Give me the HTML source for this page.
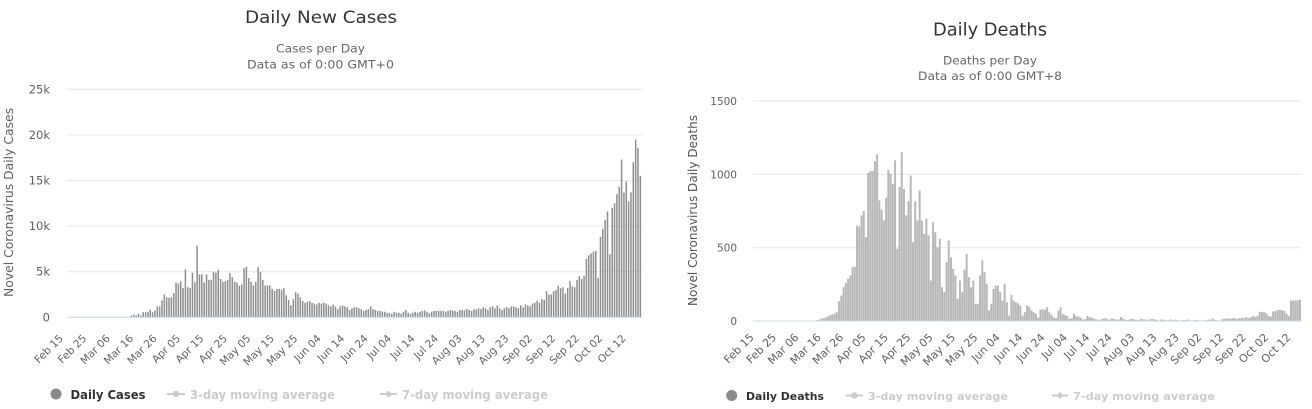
<!DOCTYPE html>
<html><head><meta charset="utf-8"><style>
html,body{margin:0;padding:0;background:#fff;}
svg{display:block;}
text{font-family:"DejaVu Sans","Liberation Sans",sans-serif;}
</style></head><body>
<svg width="1312" height="409" viewBox="0 0 1312 409" xmlns="http://www.w3.org/2000/svg">
<rect x="0" y="0" width="1312" height="409" fill="#fff"/>

<!-- ============ LEFT CHART ============ -->
<text x="321" y="23" font-size="17" fill="#333" text-anchor="middle" textLength="152" lengthAdjust="spacingAndGlyphs">Daily New Cases</text>
<text x="320.5" y="52.3" font-size="11.5" fill="#666" text-anchor="middle" textLength="89" lengthAdjust="spacingAndGlyphs">Cases per Day</text>
<text x="320.5" y="68.3" font-size="11.5" fill="#666" text-anchor="middle" textLength="147" lengthAdjust="spacingAndGlyphs">Data as of 0:00 GMT+0</text>

<g stroke="#e6e6e6" stroke-width="1">
<line x1="67" y1="89.3" x2="642" y2="89.3"/>
<line x1="67" y1="134.9" x2="642" y2="134.9"/>
<line x1="67" y1="180.5" x2="642" y2="180.5"/>
<line x1="67" y1="226.1" x2="642" y2="226.1"/>
<line x1="67" y1="271.7" x2="642" y2="271.7"/>
</g>
<g font-size="11.5" fill="#606060" text-anchor="end">
<text x="50" y="93.3">25k</text>
<text x="50" y="138.9">20k</text>
<text x="50" y="184.5">15k</text>
<text x="50" y="230.1">10k</text>
<text x="50" y="275.7">5k</text>
<text x="50" y="321.3">0</text>
</g>
<text transform="translate(13,202.5) rotate(-90)" font-size="12" fill="#606060" text-anchor="middle" textLength="189" lengthAdjust="spacingAndGlyphs">Novel Coronavirus Daily Cases</text>

<path fill="#8e8e8e" d="M123.7 317.3v-.27h1.5v.27zm2.345 0v-.46h1.5v.46zm2.345 0v-.46h1.5v.46zm2.345 0v-1.8h1.5v1.8zm2.345 0v-2.7h1.5v2.7zm2.345 0v-1.8h1.5v1.8zm2.345 0v-3.6h1.5v3.6zm2.345 0v-1.8h1.5v1.8zm2.345 0v-5h1.5v5zm2.345 0v-5h1.5v5zm2.345 0v-5.5h1.5v5.5zm2.345 0v-7.8h1.5v7.8zm2.345 0v-5h1.5v5zm2.345 0v-6.8h1.5v6.8zm2.345 0v-10.9h1.5v10.9zm2.345 0v-10.9h1.5v10.9zm2.345 0v-16.9h1.5v16.9zm2.345 0v-22.8h1.5v22.8zm2.345 0v-20.1h1.5v20.1zm2.345 0v-19.6h1.5v19.6zm2.345 0v-20.1h1.5v20.1zm2.345 0v-24.2h1.5v24.2zm2.345 0v-34.7h1.5v34.7zm2.345 0v-33.7h1.5v33.7zm2.345 0v-36h1.5v36zm2.345 0v-29.2h1.5v29.2zm2.345 0v-47.9h1.5v47.9zm2.345 0v-30.1h1.5v30.1zm2.345 0v-29.2h1.5v29.2zm2.345 0v-44.7h1.5v44.7zm2.345 0v-35.1h1.5v35.1zm2.345 0v-71.6h1.5v71.6zm2.345 0v-42.9h1.5v42.9zm2.345 0v-42.9h1.5v42.9zm2.345 0v-34.7h1.5v34.7zm2.345 0v-42.9h1.5v42.9zm2.345 0v-37.4h1.5v37.4zm2.345 0v-37.4h1.5v37.4zm2.345 0v-45.6h1.5v45.6zm2.345 0v-44.7h1.5v44.7zm2.345 0v-47.4h1.5v47.4zm2.345 0v-38.3h1.5v38.3zm2.345 0v-35.6h1.5v35.6zm2.345 0v-36h1.5v36zm2.345 0v-37.4h1.5v37.4zm2.345 0v-44.2h1.5v44.2zm2.345 0v-40.1h1.5v40.1zm2.345 0v-35.6h1.5v35.6zm2.345 0v-34.7h1.5v34.7zm2.345 0v-31.5h1.5v31.5zm2.345 0v-32.8h1.5v32.8zm2.345 0v-49.2h1.5v49.2zm2.345 0v-50.6h1.5v50.6zm2.345 0v-39.2h1.5v39.2zm2.345 0v-35.6h1.5v35.6zm2.345 0v-31.9h1.5v31.9zm2.345 0v-35.6h1.5v35.6zm2.345 0v-50.2h1.5v50.2zm2.345 0v-45.6h1.5v45.6zm2.345 0v-37.4h1.5v37.4zm2.345 0v-31.9h1.5v31.9zm2.345 0v-31.9h1.5v31.9zm2.345 0v-31.9h1.5v31.9zm2.345 0v-28.3h1.5v28.3zm2.345 0v-26.4h1.5v26.4zm2.345 0v-28.3h1.5v28.3zm2.345 0v-28.3h1.5v28.3zm2.345 0v-27.4h1.5v27.4zm2.345 0v-29.2h1.5v29.2zm2.345 0v-21.9h1.5v21.9zm2.345 0v-17.3h1.5v17.3zm2.345 0v-11.9h1.5v11.9zm2.345 0v-18.2h1.5v18.2zm2.345 0v-25.1h1.5v25.1zm2.345 0v-23.7h1.5v23.7zm2.345 0v-20.1h1.5v20.1zm2.345 0v-16.4h1.5v16.4zm2.345 0v-14.6h1.5v14.6zm2.345 0v-15.5h1.5v15.5zm2.345 0v-16.4h1.5v16.4zm2.345 0v-14.6h1.5v14.6zm2.345 0v-13.7h1.5v13.7zm2.345 0v-12.8h1.5v12.8zm2.345 0v-14.6h1.5v14.6zm2.345 0v-13.7h1.5v13.7zm2.345 0v-14.6h1.5v14.6zm2.345 0v-13.7h1.5v13.7zm2.345 0v-11.9h1.5v11.9zm2.345 0v-10.9h1.5v10.9zm2.345 0v-12.8h1.5v12.8zm2.345 0v-10.9h1.5v10.9zm2.345 0v-8.2h1.5v8.2zm2.345 0v-10.9h1.5v10.9zm2.345 0v-11.9h1.5v11.9zm2.345 0v-10.9h1.5v10.9zm2.345 0v-10h1.5v10zm2.345 0v-7.3h1.5v7.3zm2.345 0v-9.1h1.5v9.1zm2.345 0v-10h1.5v10zm2.345 0v-10h1.5v10zm2.345 0v-9.1h1.5v9.1zm2.345 0v-8.2h1.5v8.2zm2.345 0v-6.4h1.5v6.4zm2.345 0v-7.3h1.5v7.3zm2.345 0v-8.2h1.5v8.2zm2.345 0v-10.9h1.5v10.9zm2.345 0v-8.2h1.5v8.2zm2.345 0v-7.3h1.5v7.3zm2.345 0v-6.4h1.5v6.4zm2.345 0v-6.4h1.5v6.4zm2.345 0v-5.5h1.5v5.5zm2.345 0v-5.5h1.5v5.5zm2.345 0v-4.6h1.5v4.6zm2.345 0v-4.6h1.5v4.6zm2.345 0v-3.6h1.5v3.6zm2.345 0v-5.5h1.5v5.5zm2.345 0v-4.6h1.5v4.6zm2.345 0v-4.6h1.5v4.6zm2.345 0v-3.6h1.5v3.6zm2.345 0v-5.5h1.5v5.5zm2.345 0v-7.3h1.5v7.3zm2.345 0v-4.6h1.5v4.6zm2.345 0v-3.6h1.5v3.6zm2.345 0v-4.6h1.5v4.6zm2.345 0v-5.5h1.5v5.5zm2.345 0v-4.6h1.5v4.6zm2.345 0v-5.5h1.5v5.5zm2.345 0v-6.4h1.5v6.4zm2.345 0v-6.8h1.5v6.8zm2.345 0v-5.5h1.5v5.5zm2.345 0v-4.1h1.5v4.1zm2.345 0v-5.5h1.5v5.5zm2.345 0v-6.4h1.5v6.4zm2.345 0v-6.4h1.5v6.4zm2.345 0v-6.4h1.5v6.4zm2.345 0v-6.4h1.5v6.4zm2.345 0v-6.4h1.5v6.4zm2.345 0v-5.5h1.5v5.5zm2.345 0v-6.4h1.5v6.4zm2.345 0v-7.3h1.5v7.3zm2.345 0v-6.8h1.5v6.8zm2.345 0v-6.4h1.5v6.4zm2.345 0v-5.5h1.5v5.5zm2.345 0v-7.3h1.5v7.3zm2.345 0v-7.3h1.5v7.3zm2.345 0v-6.8h1.5v6.8zm2.345 0v-8.2h1.5v8.2zm2.345 0v-7.3h1.5v7.3zm2.345 0v-6.4h1.5v6.4zm2.345 0v-8.2h1.5v8.2zm2.345 0v-7.8h1.5v7.8zm2.345 0v-9.1h1.5v9.1zm2.345 0v-8.2h1.5v8.2zm2.345 0v-10h1.5v10zm2.345 0v-9.1h1.5v9.1zm2.345 0v-7.3h1.5v7.3zm2.345 0v-10h1.5v10zm2.345 0v-10.9h1.5v10.9zm2.345 0v-9.1h1.5v9.1zm2.345 0v-11.9h1.5v11.9zm2.345 0v-9.1h1.5v9.1zm2.345 0v-7.3h1.5v7.3zm2.345 0v-9.1h1.5v9.1zm2.345 0v-10h1.5v10zm2.345 0v-9.1h1.5v9.1zm2.345 0v-10.9h1.5v10.9zm2.345 0v-10.9h1.5v10.9zm2.345 0v-10h1.5v10zm2.345 0v-9.1h1.5v9.1zm2.345 0v-11.9h1.5v11.9zm2.345 0v-10h1.5v10zm2.345 0v-12.8h1.5v12.8zm2.345 0v-11.9h1.5v11.9zm2.345 0v-10.9h1.5v10.9zm2.345 0v-13.7h1.5v13.7zm2.345 0v-14.6h1.5v14.6zm2.345 0v-16.4h1.5v16.4zm2.345 0v-14.6h1.5v14.6zm2.345 0v-18.2h1.5v18.2zm2.345 0v-17.3h1.5v17.3zm2.345 0v-26h1.5v26zm2.345 0v-22.8h1.5v22.8zm2.345 0v-22.8h1.5v22.8zm2.345 0v-26h1.5v26zm2.345 0v-27.4h1.5v27.4zm2.345 0v-31.5h1.5v31.5zm2.345 0v-29.2h1.5v29.2zm2.345 0v-30.1h1.5v30.1zm2.345 0v-23.7h1.5v23.7zm2.345 0v-29.2h1.5v29.2zm2.345 0v-36h1.5v36zm2.345 0v-31h1.5v31zm2.345 0v-30.1h1.5v30.1zm2.345 0v-37.4h1.5v37.4zm2.345 0v-41h1.5v41zm2.345 0v-38.3h1.5v38.3zm2.345 0v-41.5h1.5v41.5zm2.345 0v-58.4h1.5v58.4zm2.345 0v-62h1.5v62zm2.345 0v-63.8h1.5v63.8zm2.345 0v-65.7h1.5v65.7zm2.345 0v-66.6h1.5v66.6zm2.345 0v-39.2h1.5v39.2zm2.345 0v-80.3h1.5v80.3zm2.345 0v-88.5h1.5v88.5zm2.345 0v-97.6h1.5v97.6zm2.345 0v-105.8h1.5v105.8zm2.345 0v-62.9h1.5v62.9zm2.345 0v-109.4h1.5v109.4zm2.345 0v-114h1.5v114zm2.345 0v-123.1h1.5v123.1zm2.345 0v-130.4h1.5v130.4zm2.345 0v-157.8h1.5v157.8zm2.345 0v-124.9h1.5v124.9zm2.345 0v-135.9h1.5v135.9zm2.345 0v-115.8h1.5v115.8zm2.345 0v-124.9h1.5v124.9zm2.345 0v-155h1.5v155zm2.345 0v-177.8h1.5v177.8zm2.345 0v-169.6h1.5v169.6zm2.345 0v-141.4h1.5v141.4z"/>
<line x1="67" y1="317.3" x2="642" y2="317.3" stroke="#ccd6eb" stroke-width="1"/>

<g font-size="10.5" fill="#606060" text-anchor="end">
<text transform="translate(63.67,339) rotate(-45)">Feb 15</text>
<text transform="translate(87.12,339) rotate(-45)">Feb 25</text>
<text transform="translate(110.57,339) rotate(-45)">Mar 06</text>
<text transform="translate(134.02,339) rotate(-45)">Mar 16</text>
<text transform="translate(157.47,339) rotate(-45)">Mar 26</text>
<text transform="translate(180.92,339) rotate(-45)">Apr 05</text>
<text transform="translate(204.37,339) rotate(-45)">Apr 15</text>
<text transform="translate(227.82,339) rotate(-45)">Apr 25</text>
<text transform="translate(251.27,339) rotate(-45)">May 05</text>
<text transform="translate(274.72,339) rotate(-45)">May 15</text>
<text transform="translate(298.17,339) rotate(-45)">May 25</text>
<text transform="translate(321.62,339) rotate(-45)">Jun 04</text>
<text transform="translate(345.07,339) rotate(-45)">Jun 14</text>
<text transform="translate(368.52,339) rotate(-45)">Jun 24</text>
<text transform="translate(391.97,339) rotate(-45)">Jul 04</text>
<text transform="translate(415.42,339) rotate(-45)">Jul 14</text>
<text transform="translate(438.87,339) rotate(-45)">Jul 24</text>
<text transform="translate(462.32,339) rotate(-45)">Aug 03</text>
<text transform="translate(485.77,339) rotate(-45)">Aug 13</text>
<text transform="translate(509.22,339) rotate(-45)">Aug 23</text>
<text transform="translate(532.67,339) rotate(-45)">Sep 02</text>
<text transform="translate(556.12,339) rotate(-45)">Sep 12</text>
<text transform="translate(579.57,339) rotate(-45)">Sep 22</text>
<text transform="translate(603.02,339) rotate(-45)">Oct 02</text>
<text transform="translate(626.47,339) rotate(-45)">Oct 12</text>
</g>

<!-- left legend -->
<circle cx="56" cy="394" r="5.5" fill="#8a8a8a"/>
<text x="70.5" y="399" font-size="12" font-weight="bold" fill="#333" textLength="75" lengthAdjust="spacingAndGlyphs">Daily Cases</text>
<line x1="167" y1="394" x2="185" y2="394" stroke="#ccc" stroke-width="2"/>
<circle cx="176" cy="394" r="3.2" fill="#ccc"/>
<text x="190" y="399" font-size="12" font-weight="bold" fill="#ccc" textLength="145" lengthAdjust="spacingAndGlyphs">3-day moving average</text>
<line x1="380" y1="394" x2="397" y2="394" stroke="#ccc" stroke-width="2"/>
<path d="M388.5 390.5l3.5 3.5-3.5 3.5-3.5-3.5z" fill="#ccc"/>
<text x="402" y="399" font-size="12" font-weight="bold" fill="#ccc" textLength="146" lengthAdjust="spacingAndGlyphs">7-day moving average</text>

<!-- ============ RIGHT CHART ============ -->
<text x="990" y="35.3" font-size="18" fill="#333" text-anchor="middle" textLength="114" lengthAdjust="spacingAndGlyphs">Daily Deaths</text>
<text x="990" y="64.3" font-size="11.5" fill="#666" text-anchor="middle" textLength="94" lengthAdjust="spacingAndGlyphs">Deaths per Day</text>
<text x="990" y="80" font-size="11.5" fill="#666" text-anchor="middle" textLength="144" lengthAdjust="spacingAndGlyphs">Data as of 0:00 GMT+8</text>

<g stroke="#e6e6e6" stroke-width="1">
<line x1="753" y1="101" x2="1301" y2="101"/>
<line x1="753" y1="174.3" x2="1301" y2="174.3"/>
<line x1="753" y1="247.7" x2="1301" y2="247.7"/>
</g>
<g font-size="10.5" fill="#606060" text-anchor="end">
<text x="737" y="105">1500</text>
<text x="737" y="178.3">1000</text>
<text x="737" y="251.7">500</text>
<text x="737" y="325">0</text>
</g>
<text transform="translate(697,210.5) rotate(-90)" font-size="12" fill="#555" text-anchor="middle" textLength="191" lengthAdjust="spacingAndGlyphs">Novel Coronavirus Daily Deaths</text>

<path fill="#b8b8b8" d="M813.52 321v-.3h2v.3zm2.237 0v-.7h2v.7zm2.237 0v-1.2h2v1.2zm2.237 0v-2.2h2v2.2zm2.237 0v-2.6h2v2.6zm2.237 0v-3.7h2v3.7zm2.237 0v-4.4h2v4.4zm2.237 0v-5.9h2v5.9zm2.237 0v-6.6h2v6.6zm2.237 0v-7.3h2v7.3zm2.237 0v-8.8h2v8.8zm2.237 0v-19.8h2v19.8zm2.237 0v-25.5h2v25.5zm2.237 0v-33.7h2v33.7zm2.237 0v-38.1h2v38.1zm2.237 0v-42.2h2v42.2zm2.237 0v-45.5h2v45.5zm2.237 0v-53.8h2v53.8zm2.237 0v-54.3h2v54.3zm2.237 0v-95.5h2v95.5zm2.237 0v-94.5h2v94.5zm2.237 0v-105.6h2v105.6zm2.237 0v-110h2v110zm2.237 0v-83.9h2v83.9zm2.237 0v-148.1h2v148.1zm2.237 0v-149.9h2v149.9zm2.237 0v-149.9h2v149.9zm2.237 0v-159.9h2v159.9zm2.237 0v-166.6h2v166.6zm2.237 0v-120.6h2v120.6zm2.237 0v-111.5h2v111.5zm2.237 0v-100.6h2v100.6zm2.237 0v-123.2h2v123.2zm2.237 0v-151.2h2v151.2zm2.237 0v-147.3h2v147.3zm2.237 0v-137.3h2v137.3zm2.237 0v-160.6h2v160.6zm2.237 0v-72.2h2v72.2zm2.237 0v-133.9h2v133.9zm2.237 0v-168.8h2v168.8zm2.237 0v-132h2v132zm2.237 0v-105.6h2v105.6zm2.237 0v-119.8h2v119.8zm2.237 0v-145.5h2v145.5zm2.237 0v-78.8h2v78.8zm2.237 0v-119.8h2v119.8zm2.237 0v-100.6h2v100.6zm2.237 0v-130.5h2v130.5zm2.237 0v-100.6h2v100.6zm2.237 0v-87.3h2v87.3zm2.237 0v-102.2h2v102.2zm2.237 0v-85.5h2v85.5zm2.237 0v-40.5h2v40.5zm2.237 0v-98.9h2v98.9zm2.237 0v-88.9h2v88.9zm2.237 0v-73.8h2v73.8zm2.237 0v-82.3h2v82.3zm2.237 0v-33.7h2v33.7zm2.237 0v-28.9h2v28.9zm2.237 0v-58.7h2v58.7zm2.237 0v-80.5h2v80.5zm2.237 0v-63.8h2v63.8zm2.237 0v-52.2h2v52.2zm2.237 0v-45.5h2v45.5zm2.237 0v-22.1h2v22.1zm2.237 0v-40.5h2v40.5zm2.237 0v-28.9h2v28.9zm2.237 0v-51.3h2v51.3zm2.237 0v-67.2h2v67.2zm2.237 0v-43.9h2v43.9zm2.237 0v-33.7h2v33.7zm2.237 0v-40.5h2v40.5zm2.237 0v-17.2h2v17.2zm2.237 0v-17.2h2v17.2zm2.237 0v-45.5h2v45.5zm2.237 0v-60.6h2v60.6zm2.237 0v-48.8h2v48.8zm2.237 0v-37.3h2v37.3zm2.237 0v-10.6h2v10.6zm2.237 0v-17.2h2v17.2zm2.237 0v-32.3h2v32.3zm2.237 0v-35.5h2v35.5zm2.237 0v-35.5h2v35.5zm2.237 0v-29.3h2v29.3zm2.237 0v-20.5h2v20.5zm2.237 0v-37.3h2v37.3zm2.237 0v-18.8h2v18.8zm2.237 0v-5.4h2v5.4zm2.237 0v-26.1h2v26.1zm2.237 0v-20.5h2v20.5zm2.237 0v-18.8h2v18.8zm2.237 0v-17.6h2v17.6zm2.237 0v-15.5h2v15.5zm2.237 0v-5.4h2v5.4zm2.237 0v-8.8h2v8.8zm2.237 0v-15.5h2v15.5zm2.237 0v-14.4h2v14.4zm2.237 0v-10.6h2v10.6zm2.237 0v-8.8h2v8.8zm2.237 0v-7.3h2v7.3zm2.237 0v-3.4h2v3.4zm2.237 0v-11.3h2v11.3zm2.237 0v-11.7h2v11.7zm2.237 0v-11.3h2v11.3zm2.237 0v-13.8h2v13.8zm2.237 0v-8.8h2v8.8zm2.237 0v-5.9h2v5.9zm2.237 0v-3.4h2v3.4zm2.237 0v-2.9h2v2.9zm2.237 0v-10.3h2v10.3zm2.237 0v-13.8h2v13.8zm2.237 0v-6.7h2v6.7zm2.237 0v-5.9h2v5.9zm2.237 0v-5h2v5zm2.237 0v-2.2h2v2.2zm2.237 0v-2.9h2v2.9zm2.237 0v-7.3h2v7.3zm2.237 0v-5h2v5zm2.237 0v-4.4h2v4.4zm2.237 0v-3.4h2v3.4zm2.237 0v-1.5h2v1.5zm2.237 0v-1.8h2v1.8zm2.237 0v-5h2v5zm2.237 0v-3.7h2v3.7zm2.237 0v-3.4h2v3.4zm2.237 0v-2.3h2v2.3zm2.237 0v-1.8h2v1.8zm2.237 0v-.7h2v.7zm2.237 0v-1.5h2v1.5zm2.237 0v-2.2h2v2.2zm2.237 0v-2.9h2v2.9zm2.237 0v-1.8h2v1.8zm2.237 0v-1.2h2v1.2zm2.237 0v-2.6h2v2.6zm2.237 0v-1.8h2v1.8zm2.237 0v-1.2h2v1.2zm2.237 0v-1.5h2v1.5zm2.237 0v-4h2v4zm2.237 0v-2.2h2v2.2zm2.237 0v-1.2h2v1.2zm2.237 0v-.7h2v.7zm2.237 0v-1.8h2v1.8zm2.237 0v-2.2h2v2.2zm2.237 0v-1.5h2v1.5zm2.237 0v-1.2h2v1.2zm2.237 0v-.7h2v.7zm2.237 0v-2.2h2v2.2zm2.237 0v-1.8h2v1.8zm2.237 0v-1.5h2v1.5zm2.237 0v-.7h2v.7zm2.237 0v-1.8h2v1.8zm2.237 0v-2.2h2v2.2zm2.237 0v-1.5h2v1.5zm2.237 0v-1.2h2v1.2zm2.237 0v-.4h2v.4zm2.237 0v-1.5h2v1.5zm2.237 0v-1.2h2v1.2zm2.237 0v-.9h2v.9zm2.237 0v-.3h2v.3zm2.237 0v-1.5h2v1.5zm2.237 0v-.7h2v.7zm2.237 0v-1.2h2v1.2zm2.237 0v-.9h2v.9zm2.237 0v-.4h2v.4zm2.237 0v-.6h2v.6zm2.237 0v-1.2h2v1.2zm2.237 0v-.7h2v.7zm2.237 0v-1.5h2v1.5zm2.237 0v-.6h2v.6zm2.237 0v-.4h2v.4zm2.237 0v-1.2h2v1.2zm2.237 0v-.7h2v.7zm2.237 0v-.4h2v.4zm2.237 0v-.6h2v.6zm2.237 0v-.3h2v.3zm2.237 0v-.9h2v.9zm2.237 0v-1.5h2v1.5zm2.237 0v-1.2h2v1.2zm2.237 0v-2.6h2v2.6zm2.237 0v-.9h2v.9zm2.237 0v-.7h2v.7zm2.237 0v-.4h2v.4zm2.237 0v-1.5h2v1.5zm2.237 0v-2.1h2v2.1zm2.237 0v-2.6h2v2.6zm2.237 0v-2.5h2v2.5zm2.237 0v-2.3h2v2.3zm2.237 0v-2.9h2v2.9zm2.237 0v-2.6h2v2.6zm2.237 0v-2.1h2v2.1zm2.237 0v-2.9h2v2.9zm2.237 0v-3.2h2v3.2zm2.237 0v-2.6h2v2.6zm2.237 0v-4h2v4zm2.237 0v-2.9h2v2.9zm2.237 0v-3.7h2v3.7zm2.237 0v-5h2v5zm2.237 0v-4h2v4zm2.237 0v-5.1h2v5.1zm2.237 0v-9.2h2v9.2zm2.237 0v-9.1h2v9.1zm2.237 0v-8.9h2v8.9zm2.237 0v-7.6h2v7.6zm2.237 0v-5h2v5zm2.237 0v-4.4h2v4.4zm2.237 0v-9.5h2v9.5zm2.237 0v-10h2v10zm2.237 0v-10.6h2v10.6zm2.237 0v-11.3h2v11.3zm2.237 0v-10.9h2v10.9zm2.237 0v-10h2v10zm2.237 0v-7.3h2v7.3zm2.237 0v-5h2v5zm2.237 0v-20.5h2v20.5zm2.237 0v-20.5h2v20.5zm2.237 0v-20.5h2v20.5zm2.237 0v-20.5h2v20.5zm2.237 0v-21.3h2v21.3z"/>
<line x1="753" y1="321" x2="1301" y2="321" stroke="#ccd6eb" stroke-width="1"/>

<g font-size="11" fill="#606060" text-anchor="end">
<text transform="translate(754.62,338) rotate(-45)">Feb 15</text>
<text transform="translate(776.99,338) rotate(-45)">Feb 25</text>
<text transform="translate(799.36,338) rotate(-45)">Mar 06</text>
<text transform="translate(821.73,338) rotate(-45)">Mar 16</text>
<text transform="translate(844.1,338) rotate(-45)">Mar 26</text>
<text transform="translate(866.47,338) rotate(-45)">Apr 05</text>
<text transform="translate(888.84,338) rotate(-45)">Apr 15</text>
<text transform="translate(911.21,338) rotate(-45)">Apr 25</text>
<text transform="translate(933.58,338) rotate(-45)">May 05</text>
<text transform="translate(955.95,338) rotate(-45)">May 15</text>
<text transform="translate(978.32,338) rotate(-45)">May 25</text>
<text transform="translate(1000.69,338) rotate(-45)">Jun 04</text>
<text transform="translate(1023.06,338) rotate(-45)">Jun 14</text>
<text transform="translate(1045.43,338) rotate(-45)">Jun 24</text>
<text transform="translate(1067.8,338) rotate(-45)">Jul 04</text>
<text transform="translate(1090.17,338) rotate(-45)">Jul 14</text>
<text transform="translate(1112.54,338) rotate(-45)">Jul 24</text>
<text transform="translate(1134.91,338) rotate(-45)">Aug 03</text>
<text transform="translate(1157.28,338) rotate(-45)">Aug 13</text>
<text transform="translate(1179.65,338) rotate(-45)">Aug 23</text>
<text transform="translate(1202.02,338) rotate(-45)">Sep 02</text>
<text transform="translate(1224.39,338) rotate(-45)">Sep 12</text>
<text transform="translate(1246.76,338) rotate(-45)">Sep 22</text>
<text transform="translate(1269.13,338) rotate(-45)">Oct 02</text>
<text transform="translate(1291.5,338) rotate(-45)">Oct 12</text>
</g>

<!-- right legend -->
<circle cx="731.7" cy="395.5" r="5.5" fill="#8a8a8a"/>
<text x="746" y="400" font-size="11" font-weight="bold" fill="#333" textLength="78" lengthAdjust="spacingAndGlyphs">Daily Deaths</text>
<line x1="846" y1="395.5" x2="863" y2="395.5" stroke="#ccc" stroke-width="2"/>
<circle cx="854.5" cy="395.5" r="3.2" fill="#ccc"/>
<text x="868" y="400" font-size="11" font-weight="bold" fill="#ccc" textLength="140" lengthAdjust="spacingAndGlyphs">3-day moving average</text>
<line x1="1052" y1="395.5" x2="1068" y2="395.5" stroke="#ccc" stroke-width="2"/>
<path d="M1060 392l3.5 3.5-3.5 3.5-3.5-3.5z" fill="#ccc"/>
<text x="1073" y="400" font-size="11" font-weight="bold" fill="#ccc" textLength="142" lengthAdjust="spacingAndGlyphs">7-day moving average</text>
</svg>
</body></html>
